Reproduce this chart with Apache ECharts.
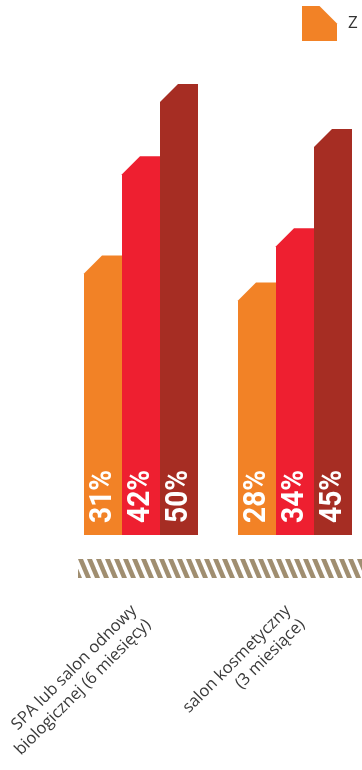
<!DOCTYPE html>
<html>
<head>
<meta charset="utf-8">
<script src="https://cdn.jsdelivr.net/npm/echarts@6/dist/echarts.min.js"></script>
<style>
  html, body { margin: 0; padding: 0; background: #fff; }
  #chart { width: 362px; height: 770px; }
</style>
</head>
<body>
<div id="chart"></div>
<script>
// Categories (services and the recommended interval between visits)
const categories = [
  'SPA lub salon odnowy\nbiologicznej (6 miesięcy)',
  'salon kosmetyczny\n(3 miesiące)'
];
// Series names; only the first one sits inside the visible legend area
const seriesNames = ['Z', 'seria 2', 'seria 3'];
// Percent values per series, one entry per category
const valuesA = [31, 28];
const valuesB = [42, 34];
const valuesC = [50, 45];
const seriesColors = ['#f28226', '#ee1f30', '#a62d23'];

const BAR_RATIO = 38 / 154;   // bar width as a share of the category band
const CHAMFER = 18;           // cut on the top-left corner of every bar

function makeRenderer(slot, color) {
  return function (params, api) {
    const cat = api.value(0);
    const val = api.value(1);
    const base = api.coord([cat, 0]);
    const top = api.coord([cat, val]);
    const band = api.size([1, 0])[0];
    const w = band * BAR_RATIO;
    const cx = base[0] + (slot - 1) * w;
    const x0 = cx - w / 2, x1 = cx + w / 2;
    const c = Math.min(CHAMFER, base[1] - top[1]);
    return {
      type: 'group',
      children: [
        {
          type: 'polygon',
          shape: { points: [[x0, base[1]], [x0, top[1] + c], [x0 + c, top[1]], [x1, top[1]], [x1, base[1]]] },
          style: { fill: color }
        },
        {
          type: 'text',
          x: cx,
          y: base[1] - 12,
          rotation: Math.PI / 2,
          scaleX: 0.88,
          style: {
            text: val + '%',
            fill: '#ffffff',
            font: 'bold 32px Roboto, sans-serif',
            align: 'left',
            verticalAlign: 'middle'
          }
        }
      ]
    };
  };
}

// Diagonal stripe tile for the band under the axis
function stripeTile() {
  const c = document.createElement('canvas');
  c.width = 9; c.height = 19;
  const ctx = c.getContext('2d');
  ctx.fillStyle = '#a08e70';
  [-9, 0, 9].forEach(function (s) {
    ctx.beginPath();
    ctx.moveTo(s, 0);
    ctx.lineTo(s + 5, 0);
    ctx.lineTo(s + 13, 19);
    ctx.lineTo(s + 8, 19);
    ctx.closePath();
    ctx.fill();
  });
  return c;
}

const seriesValues = [valuesA, valuesB, valuesC];
const series = seriesValues.map(function (vals, i) {
  return {
    type: 'custom',
    name: seriesNames[i],
    itemStyle: { color: seriesColors[i] },
    renderItem: makeRenderer(i, seriesColors[i]),
    encode: { x: 0, y: 1 },
    data: vals.map(function (v, k) { return [k, v]; })
  };
});

const chart = echarts.init(document.getElementById('chart'), null, { renderer: 'canvas' });
chart.setOption({
  animation: false,
  backgroundColor: '#ffffff',
  grid: { left: 64, width: 308, top: 84, bottom: 235, containLabel: false, outerBoundsMode: 'none' },
  legend: {
    data: [seriesNames[0]],
    left: 302,
    top: 6,
    padding: 0,
    itemWidth: 35,
    itemHeight: 36,
    icon: 'path://M0,0 L18,0 L36,18 L36,36 L0,36 Z',
    textStyle: { color: '#333333', fontSize: 17, fontFamily: '"Open Sans", sans-serif', padding: [4, 0, 0, 6] }
  },
  xAxis: {
    type: 'category',
    data: categories,
    axisLine: { show: false },
    axisTick: { show: false },
    axisLabel: {
      interval: 0,
      rotate: 45,
      margin: 80,
      color: '#3a3a3a',
      fontSize: 16.5,
      lineHeight: 20,
      fontFamily: '"Open Sans", sans-serif'
    }
  },
  yAxis: {
    type: 'value',
    min: 0,
    max: 50,
    show: false,
    splitLine: { show: false }
  },
  graphic: [
    {
      type: 'rect',
      left: 78,
      top: 559,
      silent: true,
      shape: { width: 300, height: 19 },
      style: { fill: { image: stripeTile(), repeat: 'repeat' } }
    }
  ],
  series: series
});
</script>
</body>
</html>
